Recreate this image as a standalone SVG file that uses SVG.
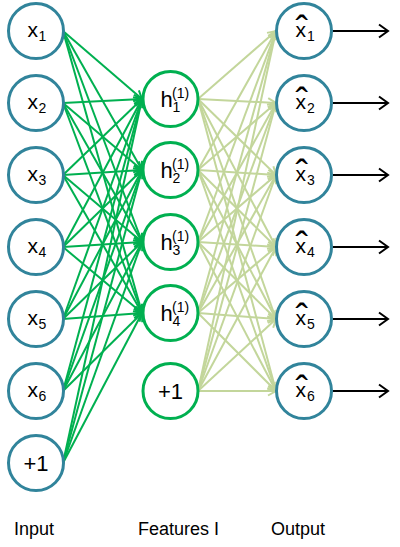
<svg xmlns="http://www.w3.org/2000/svg" width="400" height="547" viewBox="0 0 400 547">
<style>
.bg{fill:#ffffff}
.nb{fill:#ffffff;stroke:#31849B;stroke-width:3}
.ng{fill:#ffffff;stroke:#00B050;stroke-width:3}
.c1{stroke:#00B050;stroke-width:2;fill:none;marker-end:url(#ag)}
.c2{stroke:#C3D69B;stroke-width:2;fill:none;marker-end:url(#al)}
.c3{stroke:#000000;stroke-width:2;fill:none;marker-end:url(#ak)}
text{font-family:"Liberation Sans",Arial,sans-serif;fill:#000000}
.m{font-size:21px}
.hh{font-size:22px}
.p{font-size:22px}
.s{font-size:14px}
.hat{font-size:38px}
.lab{font-size:18px}
</style>
<defs>
<marker id="ag" markerUnits="userSpaceOnUse" markerWidth="12" markerHeight="12" refX="10" refY="6" orient="auto">
<path d="M2,1.5 L10,6 L2,10.5" fill="none" stroke="#00B050" stroke-width="2"/>
</marker>
<marker id="al" markerUnits="userSpaceOnUse" markerWidth="12" markerHeight="12" refX="10" refY="6" orient="auto">
<path d="M2,1.5 L10,6 L2,10.5" fill="none" stroke="#C3D69B" stroke-width="2"/>
</marker>
<marker id="ak" markerUnits="userSpaceOnUse" markerWidth="14" markerHeight="16" refX="12" refY="8" orient="auto">
<path d="M3,1.5 L12,8 L3,14.5" fill="none" stroke="#000000" stroke-width="2"/>
</marker>
</defs>
<rect class="bg" x="0" y="0" width="400" height="547"/>
<g id="connectors">
<line class="c1" x1="63" y1="31" x2="142" y2="99"/>
<line class="c1" x1="63" y1="31" x2="142" y2="170"/>
<line class="c1" x1="63" y1="31" x2="142" y2="242"/>
<line class="c1" x1="63" y1="31" x2="142" y2="313"/>
<line class="c1" x1="63" y1="103" x2="142" y2="99"/>
<line class="c1" x1="63" y1="103" x2="142" y2="170"/>
<line class="c1" x1="63" y1="103" x2="142" y2="242"/>
<line class="c1" x1="63" y1="103" x2="142" y2="313"/>
<line class="c1" x1="63" y1="175" x2="142" y2="99"/>
<line class="c1" x1="63" y1="175" x2="142" y2="170"/>
<line class="c1" x1="63" y1="175" x2="142" y2="242"/>
<line class="c1" x1="63" y1="175" x2="142" y2="313"/>
<line class="c1" x1="63" y1="247" x2="142" y2="99"/>
<line class="c1" x1="63" y1="247" x2="142" y2="170"/>
<line class="c1" x1="63" y1="247" x2="142" y2="242"/>
<line class="c1" x1="63" y1="247" x2="142" y2="313"/>
<line class="c1" x1="63" y1="319" x2="142" y2="99"/>
<line class="c1" x1="63" y1="319" x2="142" y2="170"/>
<line class="c1" x1="63" y1="319" x2="142" y2="242"/>
<line class="c1" x1="63" y1="319" x2="142" y2="313"/>
<line class="c1" x1="63" y1="391" x2="142" y2="99"/>
<line class="c1" x1="63" y1="391" x2="142" y2="170"/>
<line class="c1" x1="63" y1="391" x2="142" y2="242"/>
<line class="c1" x1="63" y1="391" x2="142" y2="313"/>
<line class="c1" x1="63" y1="463" x2="142" y2="99"/>
<line class="c1" x1="63" y1="463" x2="142" y2="170"/>
<line class="c1" x1="63" y1="463" x2="142" y2="242"/>
<line class="c1" x1="63" y1="463" x2="142" y2="313"/>

<line class="c2" x1="198" y1="99" x2="276" y2="31"/>
<line class="c2" x1="198" y1="99" x2="276" y2="103"/>
<line class="c2" x1="198" y1="99" x2="276" y2="175"/>
<line class="c2" x1="198" y1="99" x2="276" y2="247"/>
<line class="c2" x1="198" y1="99" x2="276" y2="319"/>
<line class="c2" x1="198" y1="99" x2="276" y2="391"/>
<line class="c2" x1="198" y1="170" x2="276" y2="31"/>
<line class="c2" x1="198" y1="170" x2="276" y2="103"/>
<line class="c2" x1="198" y1="170" x2="276" y2="175"/>
<line class="c2" x1="198" y1="170" x2="276" y2="247"/>
<line class="c2" x1="198" y1="170" x2="276" y2="319"/>
<line class="c2" x1="198" y1="170" x2="276" y2="391"/>
<line class="c2" x1="198" y1="242" x2="276" y2="31"/>
<line class="c2" x1="198" y1="242" x2="276" y2="103"/>
<line class="c2" x1="198" y1="242" x2="276" y2="175"/>
<line class="c2" x1="198" y1="242" x2="276" y2="247"/>
<line class="c2" x1="198" y1="242" x2="276" y2="319"/>
<line class="c2" x1="198" y1="242" x2="276" y2="391"/>
<line class="c2" x1="198" y1="313" x2="276" y2="31"/>
<line class="c2" x1="198" y1="313" x2="276" y2="103"/>
<line class="c2" x1="198" y1="313" x2="276" y2="175"/>
<line class="c2" x1="198" y1="313" x2="276" y2="247"/>
<line class="c2" x1="198" y1="313" x2="276" y2="319"/>
<line class="c2" x1="198" y1="313" x2="276" y2="391"/>
<line class="c2" x1="198" y1="391" x2="276" y2="31"/>
<line class="c2" x1="198" y1="391" x2="276" y2="103"/>
<line class="c2" x1="198" y1="391" x2="276" y2="175"/>
<line class="c2" x1="198" y1="391" x2="276" y2="247"/>
<line class="c2" x1="198" y1="391" x2="276" y2="319"/>
<line class="c2" x1="198" y1="391" x2="276" y2="391"/>

<line class="c3" x1="333" y1="31" x2="388" y2="31"/>
<line class="c3" x1="333" y1="103" x2="388" y2="103"/>
<line class="c3" x1="333" y1="175" x2="388" y2="175"/>
<line class="c3" x1="333" y1="247" x2="388" y2="247"/>
<line class="c3" x1="333" y1="319" x2="388" y2="319"/>
<line class="c3" x1="333" y1="391" x2="388" y2="391"/>
</g>

<g id="in1"><circle class="nb" cx="36" cy="31" r="27.5"/><text class="m" x="27.5" y="37">x<tspan class="s" x="38.5" y="41">1</tspan></text></g>
<g id="in2"><circle class="nb" cx="36" cy="103" r="27.5"/><text class="m" x="27.5" y="109">x<tspan class="s" x="38.5" y="113">2</tspan></text></g>
<g id="in3"><circle class="nb" cx="36" cy="175" r="27.5"/><text class="m" x="27.5" y="181">x<tspan class="s" x="38.5" y="185">3</tspan></text></g>
<g id="in4"><circle class="nb" cx="36" cy="247" r="27.5"/><text class="m" x="27.5" y="253">x<tspan class="s" x="38.5" y="257">4</tspan></text></g>
<g id="in5"><circle class="nb" cx="36" cy="319" r="27.5"/><text class="m" x="27.5" y="325">x<tspan class="s" x="38.5" y="329">5</tspan></text></g>
<g id="in6"><circle class="nb" cx="36" cy="391" r="27.5"/><text class="m" x="27.5" y="397">x<tspan class="s" x="38.5" y="401">6</tspan></text></g>
<g id="inb"><circle class="nb" cx="36" cy="463" r="27.5"/><text class="p" x="36" y="471" text-anchor="middle">+1</text></g>

<g id="h1"><circle class="ng" cx="170.5" cy="99" r="27.5"/><text class="hh" x="160.5" y="107">h<tspan class="s" x="172" y="98">(1)</tspan><tspan class="s" x="172.5" y="112">1</tspan></text></g>
<g id="h2"><circle class="ng" cx="170.5" cy="170" r="27.5"/><text class="hh" x="160.5" y="178">h<tspan class="s" x="172" y="169">(1)</tspan><tspan class="s" x="172.5" y="183">2</tspan></text></g>
<g id="h3"><circle class="ng" cx="170.5" cy="242" r="27.5"/><text class="hh" x="160.5" y="250">h<tspan class="s" x="172" y="241">(1)</tspan><tspan class="s" x="172.5" y="255">3</tspan></text></g>
<g id="h4"><circle class="ng" cx="170.5" cy="313" r="27.5"/><text class="hh" x="160.5" y="321">h<tspan class="s" x="172" y="312">(1)</tspan><tspan class="s" x="172.5" y="326">4</tspan></text></g>
<g id="hb"><circle class="ng" cx="170.5" cy="391" r="27.5"/><text class="p" x="170.5" y="399" text-anchor="middle">+1</text></g>

<g id="out1"><circle class="nb" cx="304" cy="31" r="27.5"/><text class="m" x="295.5" y="37">x<tspan class="hat" x="295.5" y="43">ˆ</tspan><tspan class="s" x="307" y="41">1</tspan></text></g>
<g id="out2"><circle class="nb" cx="304" cy="103" r="27.5"/><text class="m" x="295.5" y="109">x<tspan class="hat" x="295.5" y="115">ˆ</tspan><tspan class="s" x="307" y="113">2</tspan></text></g>
<g id="out3"><circle class="nb" cx="304" cy="175" r="27.5"/><text class="m" x="295.5" y="181">x<tspan class="hat" x="295.5" y="187">ˆ</tspan><tspan class="s" x="307" y="185">3</tspan></text></g>
<g id="out4"><circle class="nb" cx="304" cy="247" r="27.5"/><text class="m" x="295.5" y="253">x<tspan class="hat" x="295.5" y="259">ˆ</tspan><tspan class="s" x="307" y="257">4</tspan></text></g>
<g id="out5"><circle class="nb" cx="304" cy="319" r="27.5"/><text class="m" x="295.5" y="325">x<tspan class="hat" x="295.5" y="331">ˆ</tspan><tspan class="s" x="307" y="329">5</tspan></text></g>
<g id="out6"><circle class="nb" cx="304" cy="391" r="27.5"/><text class="m" x="295.5" y="397">x<tspan class="hat" x="295.5" y="403">ˆ</tspan><tspan class="s" x="307" y="401">6</tspan></text></g>

<g id="labels">
<text class="lab" x="14" y="535">Input</text>
<text class="lab" x="138" y="535">Features I</text>
<text class="lab" x="271" y="535">Output</text>
</g>
</svg>
